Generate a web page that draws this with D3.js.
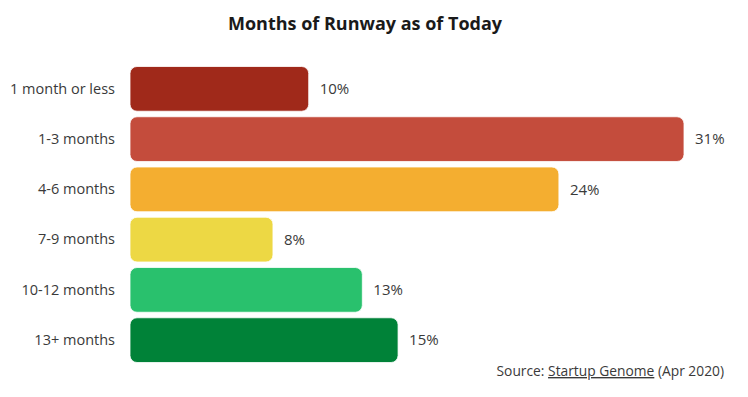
<!DOCTYPE html>
<html>
<head>
<meta charset="utf-8">
<script src="https://cdn.jsdelivr.net/npm/d3@7"></script>
<style>
  html, body { margin: 0; padding: 0; background: #fff; }
  svg { display: block; font-family: "Open Sans", sans-serif; }
</style>
</head>
<body>
<svg id="chart" width="748" height="397"></svg>
<script>
const categories = ["1 month or less", "1-3 months", "4-6 months", "7-9 months", "10-12 months", "13+ months"];
const values = [10, 31, 24, 8, 13, 15];
const colors = ["#A0291A", "#C44C3C", "#F4AE30", "#EDD844", "#29C16D", "#008238"];
const title = "Months of Runway as of Today";

const svg = d3.select("#chart");

const x = d3.scaleLinear().domain([0, 31]).range([130, 684]);
const y = d3.scaleBand().domain(categories).range([66.5, 362.5]).paddingInner(0.11).paddingOuter(0);

svg.append("text")
  .attr("x", 365).attr("y", 30)
  .attr("text-anchor", "middle")
  .attr("font-size", 18).attr("font-weight", "bold")
  .attr("fill", "#1a1a1a")
  .text(title);

const rows = svg.append("g").selectAll("g").data(categories).join("g");

rows.append("rect")
  .attr("x", x(0))
  .attr("y", d => y(d))
  .attr("width", (d, i) => x(values[i]) - x(0))
  .attr("height", y.bandwidth())
  .attr("rx", 7).attr("ry", 7)
  .attr("fill", (d, i) => colors[i])
  .attr("stroke", "#fff").attr("stroke-width", 0.8);

const yAxis = d3.axisLeft(y).tickSize(0).tickPadding(15);
const ag = svg.append("g").attr("transform", `translate(${x(0)},0)`).call(yAxis);
ag.select(".domain").remove();
ag.selectAll("text")
  .attr("font-family", "Open Sans, sans-serif")
  .attr("font-size", 14.5)
  .attr("fill", "#3a3a3a");

rows.append("text")
  .attr("x", (d, i) => x(values[i]) + 11)
  .attr("y", d => y(d) + y.bandwidth() / 2)
  .attr("dy", "0.35em")
  .attr("font-size", 15)
  .attr("fill", "#3a3a3a")
  .text((d, i) => values[i] + "%");

const src = svg.append("text")
  .attr("x", 724).attr("y", 376)
  .attr("text-anchor", "end")
  .attr("font-size", 13.8)
  .attr("fill", "#3a3a3a");
src.append("tspan").text("Source: ");
src.append("tspan").attr("text-decoration", "underline").text("Startup Genome");
src.append("tspan").text(" (Apr 2020)");
</script>
</body>
</html>
